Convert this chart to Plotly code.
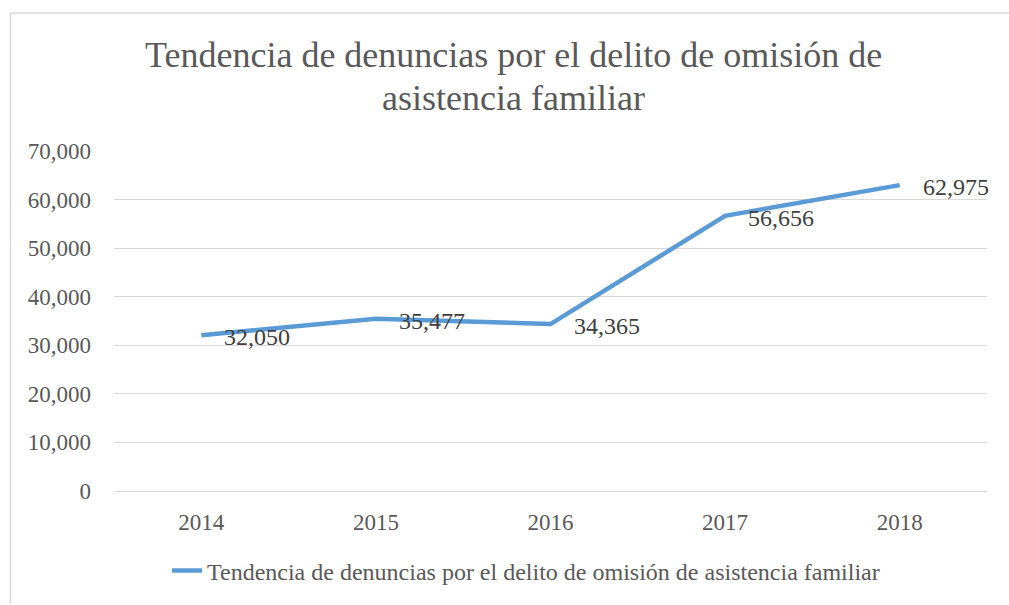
import plotly.graph_objects as go

years = ["2014", "2015", "2016", "2017", "2018"]
denuncias = [32050, 35477, 34365, 56656, 62975]
series_name = "Tendencia de denuncias por el delito de omisión de asistencia familiar"
title_lines = ["Tendencia de denuncias por el delito de omisión de", "asistencia familiar"]
y_ticks = [0, 10000, 20000, 30000, 40000, 50000, 60000, 70000]

W, H = 1009, 605
ML, MR, MT, MB = 114, 22, 151, 109
PW, PH = W - ML - MR, H - MT - MB

FONT = "Liberation Serif"

fig = go.Figure()
fig.add_trace(go.Scatter(
    x=years, y=denuncias, mode="lines", name=series_name,
    line=dict(color="#5B9BD5", width=4.5),
))

for i, yv in enumerate(denuncias):
    fig.add_annotation(
        x=i, y=yv, xref="x", yref="y", text=f"{yv:,}", showarrow=False,
        xanchor="left", yanchor="middle", xshift=21, yshift=-2,
        font=dict(family=FONT, size=24, color="#404040"),
    )


def px2paper_x(px):
    return (px - ML) / PW


def px2paper_y(py):
    return (H - MB - py) / PH


# title as two lines with Excel-like line spacing
for line, cy in zip(title_lines, [54, 97]):
    fig.add_annotation(
        x=px2paper_x(513), y=px2paper_y(cy), xref="paper", yref="paper",
        text=line, showarrow=False, xanchor="center", yanchor="middle",
        font=dict(family=FONT, size=36, color="#595959"),
    )

# chart border (left and top edges visible)
fig.add_shape(type="line", xref="paper", yref="paper",
              x0=px2paper_x(10.5), x1=px2paper_x(1012), y0=px2paper_y(11), y1=px2paper_y(11),
              line=dict(color="#D9D9D9", width=1.5))
fig.add_shape(type="line", xref="paper", yref="paper",
              x0=px2paper_x(10.5), x1=px2paper_x(10.5), y0=px2paper_y(11), y1=px2paper_y(610),
              line=dict(color="#D9D9D9", width=1.5))

fig.update_layout(
    width=W, height=H,
    margin=dict(l=ML, r=MR, t=MT, b=MB, pad=0),
    paper_bgcolor="white", plot_bgcolor="white",
    font=dict(family=FONT, color="#595959"),
    xaxis=dict(type="category", range=[-0.5, 4.5], showgrid=False, showline=False,
               zeroline=False, ticks="", tickfont=dict(family=FONT, size=23, color="#595959"),
               ticklabelstandoff=15),
    yaxis=dict(range=[0, 70000], tickvals=y_ticks, tickformat=",d",
               showgrid=True, gridcolor="#D9D9D9", gridwidth=1.3,
               zeroline=True, zerolinecolor="#D9D9D9", zerolinewidth=1.3,
               showline=False, ticks="", ticklabelstandoff=22,
               tickfont=dict(family=FONT, size=23, color="#595959")),
    showlegend=True,
    legend=dict(orientation="h", x=px2paper_x(167), xanchor="left", y=px2paper_y(577),
                yanchor="middle",
                font=dict(family=FONT, size=24, color="#595959"),
                bgcolor="rgba(0,0,0,0)"),
)

fig.write_html("out.html", post_script="document.body.style.margin='0';",
               config={"displayModeBar": False})
